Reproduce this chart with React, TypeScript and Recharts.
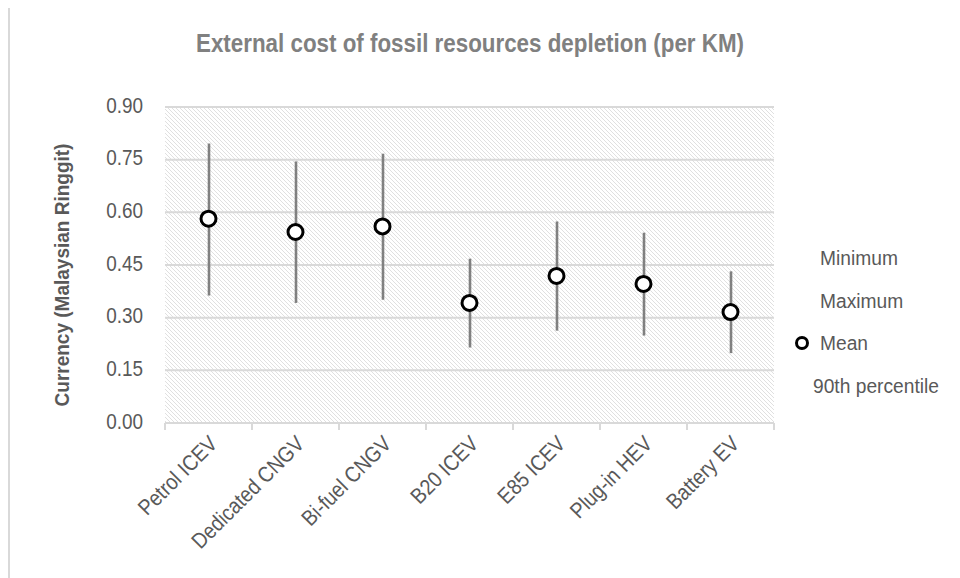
import React from 'react';
import { ComposedChart, Bar, Line, XAxis, YAxis, CartesianGrid } from 'recharts';

const categories = ['Petrol ICEV', 'Dedicated CNGV', 'Bi-fuel CNGV', 'B20 ICEV', 'E85 ICEV', 'Plug-in HEV', 'Battery EV'];
const minimum = [0.363, 0.342, 0.351, 0.215, 0.263, 0.249, 0.199];
const maximum = [0.796, 0.745, 0.767, 0.468, 0.574, 0.542, 0.432];
const mean = [0.582, 0.544, 0.56, 0.342, 0.419, 0.396, 0.316];
const yTicks = [0, 0.15, 0.3, 0.45, 0.6, 0.75, 0.9];
const legendItems = ['Minimum', 'Maximum', 'Mean', '90th percentile'];

const data = categories.map((c, i) => ({
  cat: c,
  range: [minimum[i], maximum[i]],
  min: minimum[i],
  max: maximum[i],
  mean: mean[i],
}));

const FONT = "'Liberation Sans', Arial, sans-serif";
const TEXT = '#595959';
const GRID = '#d9d9d9';

const HighLow = (props: any) => {
  const { x, y, width, height } = props;
  const cx = x + width / 2;
  return <line x1={cx} x2={cx} y1={y} y2={y + height} stroke="#808080" strokeWidth={2.6} />;
};

const XTick = (props: any) => {
  const { x, y, payload, index, visibleTicksCount } = props;
  const half = payload && payload.offset ? payload.offset : 43.5;
  const ax = x + 6;
  const ay = y + 18;
  return (
    <g>
      <line x1={x - half} x2={x - half} y1={y} y2={y + 7} stroke={GRID} strokeWidth={2} />
      {index === visibleTicksCount - 1 && (
        <line x1={x + half} x2={x + half} y1={y} y2={y + 7} stroke={GRID} strokeWidth={2} />
      )}
      <g transform={`translate(${ax}, ${ay}) rotate(-45) scale(0.88, 1)`}>
        <text x={0} y={0} textAnchor="end" dominantBaseline="middle" fill={TEXT} fontSize={22} fontFamily={FONT}>
          {payload.value}
        </text>
      </g>
    </g>
  );
};

const YTick = (props: any) => {
  const { x, y, payload } = props;
  return (
    <g transform={`translate(${x}, ${y}) scale(0.86, 1)`}>
      <text x={0} y={0} textAnchor="end" dominantBaseline="middle" fill={TEXT} fontSize={22} fontFamily={FONT}>
        {Number(payload.value).toFixed(2)}
      </text>
    </g>
  );
};

export default function App() {
  return (
    <div style={{ position: 'relative', width: 960, height: 578, marginLeft: -8, marginTop: -8, overflow: 'hidden', background: '#fff' }}>
      <svg width={0} height={0} style={{ position: 'absolute' }}>
        <defs>
          <pattern id="hatch" patternUnits="userSpaceOnUse" width={4} height={4}>
            <rect width={4} height={4} fill="#ffffff" />
            <path d="M-1,-1 L5,5 M-1,3 L1,5 M3,-1 L5,1" stroke="#e0e0e0" strokeWidth={1} />
          </pattern>
        </defs>
      </svg>
      <div style={{ position: 'absolute', left: 8, top: 4, width: 946, height: 620, border: `2px solid ${GRID}`, boxSizing: 'border-box' }} />
      <div style={{ position: 'absolute', left: 120, top: 27, width: 700, textAlign: 'center', fontFamily: FONT, fontWeight: 'bold', fontSize: 26, lineHeight: '32px', color: '#808080', transform: 'scaleX(0.86)' }}>
        External cost of fossil resources depletion (per KM)
      </div>
      <div style={{ position: 'absolute', left: 62 - 160, top: 275 - 15, width: 320, height: 30, lineHeight: '30px', textAlign: 'center', transform: 'rotate(-90deg) scaleX(0.95)', fontFamily: FONT, fontWeight: 'bold', fontSize: 20, color: TEXT }}>
        Currency (Malaysian Ringgit)
      </div>
      <div style={{ position: 'absolute', left: 0, top: 0 }}>
        <ComposedChart width={960} height={578} data={data} margin={{ top: 107, right: 186, bottom: 55, left: 105 }}>
          <CartesianGrid vertical={false} stroke={GRID} strokeWidth={2} fill="url(#hatch)" fillOpacity={1} />
          <XAxis
            dataKey="cat"
            height={100}
            axisLine={{ stroke: GRID, strokeWidth: 2 }}
            tickLine={false}
            tickSize={0}
            tickMargin={0}
            interval={0}
            tick={<XTick />}
          />
          <YAxis
            width={60}
            domain={[0, 0.9]}
            ticks={yTicks}
            axisLine={false}
            tickLine={false}
            tickSize={0}
            tickMargin={22}
            tick={<YTick />}
          />
          <Bar dataKey="range" barSize={10} shape={<HighLow />} isAnimationActive={false} />
          <Line
            dataKey="mean"
            stroke="none"
            isAnimationActive={false}
            dot={{ r: 7.5, fill: '#ffffff', stroke: '#000000', strokeWidth: 3 }}
            activeDot={false}
          />
        </ComposedChart>
      </div>
      <div style={{ position: 'absolute', left: 790, top: 244, fontFamily: FONT, fontSize: 20, color: TEXT }}>
        {legendItems.map((name, i) => (
          <div key={name} style={{ position: 'absolute', top: i * 42.5, left: 0, height: 28, lineHeight: '28px', whiteSpace: 'nowrap' }}>
            {name === 'Mean' && (
              <svg width={20} height={20} style={{ position: 'absolute', left: 2, top: 4 }}>
                <circle cx={10} cy={10} r={5.5} fill="#fff" stroke="#000" strokeWidth={3} />
              </svg>
            )}
            <span style={{ position: 'absolute', left: name === '90th percentile' ? 23 : 30, display: 'inline-block', transform: 'scaleX(0.96)', transformOrigin: 'left center' }}>{name}</span>
          </div>
        ))}
      </div>
    </div>
  );
}
